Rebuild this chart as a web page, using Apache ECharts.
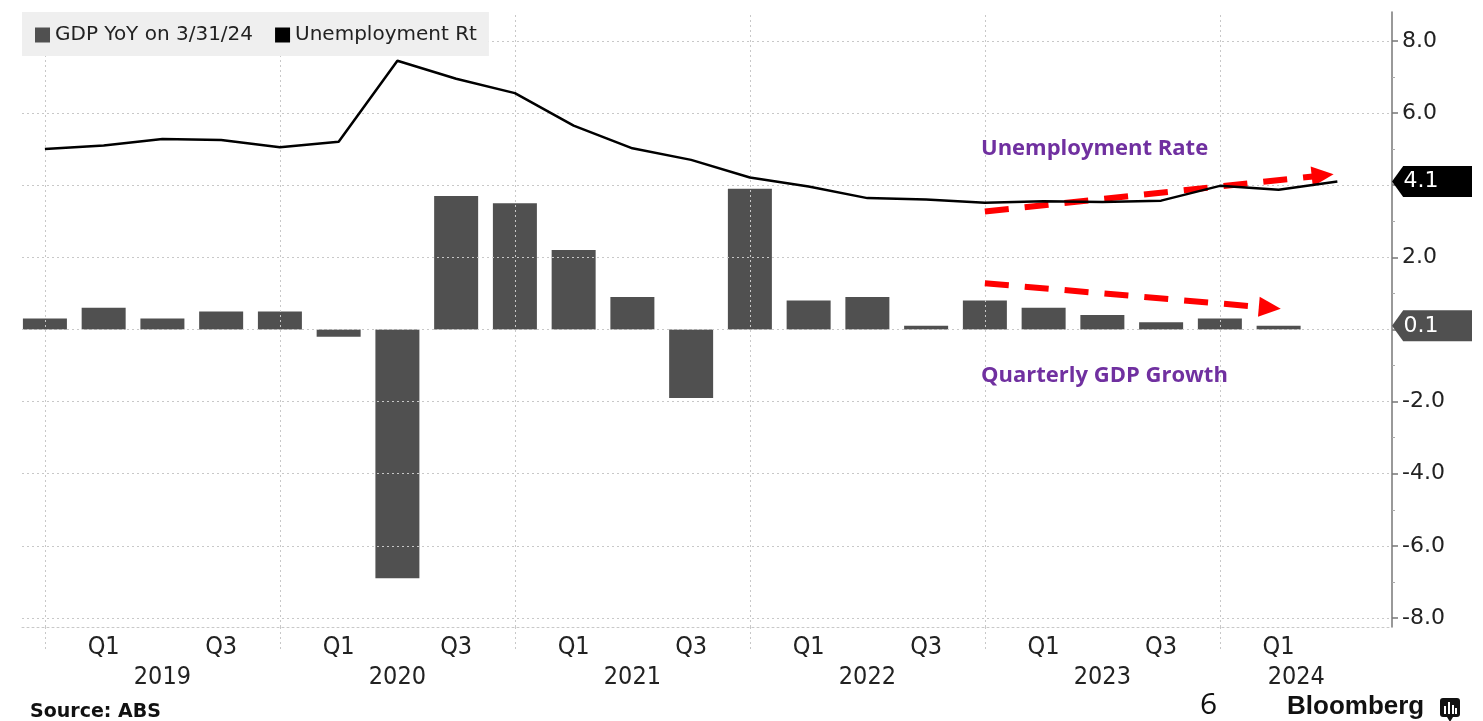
<!DOCTYPE html>
<html>
<head>
<meta charset="utf-8">
<script src="https://cdn.jsdelivr.net/npm/echarts@6/dist/echarts.min.js"></script>
<style>
html,body{margin:0;padding:0;background:#fff;}
#main{width:1483px;height:721px;}
</style>
</head>
<body>
<div id="main"></div>
<script>
// ---- data ----
const quarters = ['2018 Q4','2019 Q1','2019 Q2','2019 Q3','2019 Q4','2020 Q1','2020 Q2','2020 Q3','2020 Q4',
  '2021 Q1','2021 Q2','2021 Q3','2021 Q4','2022 Q1','2022 Q2','2022 Q3','2022 Q4','2023 Q1','2023 Q2','2023 Q3',
  '2023 Q4','2024 Q1','2024 Q2'];
const gdpQoQ = [0.3, 0.6, 0.3, 0.5, 0.5, -0.2, -6.9, 3.7, 3.5, 2.2, 0.9, -1.9, 3.9, 0.8, 0.9, 0.1, 0.8, 0.6, 0.4, 0.2, 0.3, 0.1];
const unemployment = [5.0, 5.1, 5.28, 5.25, 5.05, 5.2, 7.45, 6.95, 6.55, 5.65, 5.02, 4.7, 4.21, 3.96, 3.64, 3.6, 3.51, 3.55, 3.53, 3.57, 3.98, 3.87, 4.1];
const qTickPos = [1, 3, 5, 7, 9, 11, 13, 15, 17, 19, 21];
const qTickLabels = ['Q1','Q3','Q1','Q3','Q1','Q3','Q1','Q3','Q1','Q3','Q1'];
const yearPos = [2, 6, 10, 14, 18, 21.3];
const yearLabels = ['2019','2020','2021','2022','2023','2024'];
const yearBoundaries = [0, 4, 8, 12, 16, 20];
const yTicks = [-8, -6, -4, -2, 0, 2, 4, 6, 8];
const yMinorTicks = [-7, -5, -3, -1, 1, 3, 5, 7];
// annotation arrows [startIdx, startVal, endIdx, endVal]
const unempTrend = [16, 3.27, 21.75, 4.27];
const gdpTrend = [16, 1.28, 20.85, 0.6];

const X_MIN = -0.39, X_MAX = 22.93, Y_MIN = -8.25, Y_MAX = 8.8;

const chart = echarts.init(document.getElementById('main'), null, {renderer: 'canvas'});

const labelOf = (pos, labels) => (v) => {
  for (let i = 0; i < pos.length; i++) if (Math.abs(pos[i] - v) < 1e-6) return labels[i];
  return '';
};

const gridLineStyle = {color: '#c8c8c8', type: [2, 3], width: 1};
const tagPath = 'path://M0,50 L14,0 L100,0 L100,100 L14,100 Z';
const xFont = '"Liberation Sans Narrow", "DejaVu Sans Condensed", "Roboto Condensed", sans-serif';

const option = {
  animation: false,
  backgroundColor: '#ffffff',
  grid: {left: 22, right: 91, top: 12, bottom: 94, containLabel: false},
  legend: {
    left: 22, top: 12, z: 20,
    backgroundColor: '#efefef',
    padding: [13, 12, 11, 13],
    itemWidth: 15, itemHeight: 15, itemGap: 22,
    icon: 'rect',
    itemStyle: {borderWidth: 0},
    lineStyle: {width: 0},
    textStyle: {fontFamily: 'DejaVu Sans', fontSize: 20, color: '#222'},
    data: [
      {name: 'GDP YoY on 3/31/24', itemStyle: {color: '#505050', borderWidth: 0}},
      {name: 'Unemployment Rt', itemStyle: {color: '#000', borderWidth: 0}}
    ]
  },
  xAxis: [{
    type: 'value', min: X_MIN, max: X_MAX,
    splitLine: {show: false},
    axisLine: {show: true, onZero: false, lineStyle: gridLineStyle},
    axisTick: {show: true, customValues: yearBoundaries, length: 24, lineStyle: gridLineStyle},
    axisLabel: {
      customValues: qTickPos, formatter: labelOf(qTickPos, qTickLabels),
      fontFamily: xFont, fontSize: 25, color: '#222', margin: 8
    }
  }, {
    type: 'value', min: X_MIN, max: X_MAX, position: 'bottom', offset: 30,
    splitLine: {show: false}, axisLine: {show: false, onZero: false}, axisTick: {show: false},
    axisLabel: {
      customValues: yearPos, formatter: labelOf(yearPos, yearLabels),
      fontFamily: xFont, fontSize: 25, color: '#222', margin: 8
    }
  }],
  yAxis: [{
    type: 'value', position: 'right', min: Y_MIN, max: Y_MAX,
    splitLine: {show: false},
    axisLine: {show: true, onZero: false, lineStyle: {color: '#777', width: 1.5}},
    axisTick: {show: true, customValues: yTicks, length: 6, lineStyle: {color: '#777', width: 1.5}},
    axisLabel: {
      customValues: yTicks, formatter: (v) => v.toFixed(1),
      fontFamily: 'DejaVu Sans', fontSize: 22, color: '#222', margin: 10
    }
  }, {
    type: 'value', position: 'right', min: Y_MIN, max: Y_MAX,
    splitLine: {show: false}, axisLine: {show: false, onZero: false},
    axisTick: {show: true, customValues: yMinorTicks, length: 3, lineStyle: {color: '#aaa', width: 1}},
    axisLabel: {show: false}
  }],
  series: [{
    name: 'GDP YoY on 3/31/24',
    type: 'bar',
    data: gdpQoQ.map((v, i) => [i, v]),
    barWidth: 44,
    itemStyle: {color: '#505050'},
    z: 3,
    markLine: {
      silent: true, symbol: 'none', animation: false,
      label: {show: false},
      lineStyle: gridLineStyle,
      data: yTicks.map(v => ({yAxis: v})).concat(yearBoundaries.map(v => ({xAxis: v})))
    },
    markPoint: {
      silent: true, animation: false,
      data: [{
        coord: [X_MAX, gdpQoQ[gdpQoQ.length - 1]], value: gdpQoQ[gdpQoQ.length - 1],
        symbol: tagPath, symbolSize: [80, 31], symbolKeepAspect: false, symbolOffset: [40, 0],
        itemStyle: {color: '#505050'},
        label: {show: true, position: 'inside', offset: [-11, 0], color: '#fff', fontFamily: 'DejaVu Sans', fontSize: 22,
          formatter: (p) => p.value.toFixed(1)}
      }]
    }
  }, {
    name: 'Unemployment Rt',
    type: 'line',
    data: unemployment.map((v, i) => [i, v]),
    symbol: 'none',
    lineStyle: {color: '#000', width: 2.5},
    itemStyle: {color: '#000'},
    z: 5,
    markLine: {
      silent: true, animation: false,
      symbol: ['none', 'triangle'], symbolSize: [20, 22],
      label: {show: false},
      lineStyle: {color: '#ff0000', width: 6, type: [24, 16]},
      data: [
        [{coord: [unempTrend[0], unempTrend[1]]}, {coord: [unempTrend[2], unempTrend[3]]}],
        [{coord: [gdpTrend[0], gdpTrend[1]]}, {coord: [gdpTrend[2], gdpTrend[3]]}]
      ]
    },
    markPoint: {
      silent: true, animation: false,
      data: [{
        coord: [X_MAX, unemployment[unemployment.length - 1]], value: unemployment[unemployment.length - 1],
        symbol: tagPath, symbolSize: [80, 31], symbolKeepAspect: false, symbolOffset: [40, 0],
        itemStyle: {color: '#000'},
        label: {show: true, position: 'inside', offset: [-11, 0], color: '#fff', fontFamily: 'DejaVu Sans', fontSize: 22,
          formatter: (p) => p.value.toFixed(1)}
      }]
    }
  }],
  graphic: [
    {type: 'text', left: 981, top: 138, z: 50,
      style: {text: 'Unemployment Rate', fill: '#7030A0', font: 'bold 22px "Open Sans"'}},
    {type: 'text', left: 981, top: 365, z: 50,
      style: {text: 'Quarterly GDP Growth', fill: '#7030A0', font: 'bold 22px "Open Sans"'}},
    {type: 'text', left: 30, top: 703, z: 50,
      style: {text: 'Source: ABS', fill: '#111', font: 'bold 19px "DejaVu Sans"'}},
    {type: 'text', left: 1200, top: 690, z: 50,
      style: {text: '6', fill: '#111', font: '30px "Open Sans"'}},
    {type: 'text', left: 1287, top: 694, z: 50,
      style: {text: 'Bloomberg', fill: '#111', font: 'bold 26px "Liberation Sans"'}},
    {type: 'group', left: 1440, top: 698, z: 50, children: [
      {type: 'rect', shape: {x: 0, y: 0, width: 20, height: 19, r: 3}, style: {fill: '#111'}},
      {type: 'polygon', shape: {points: [[7, 19], [10, 24], [13, 19]]}, style: {fill: '#111'}},
      {type: 'rect', shape: {x: 4, y: 8, width: 2, height: 8}, style: {fill: '#fff'}},
      {type: 'rect', shape: {x: 8, y: 4, width: 2, height: 12}, style: {fill: '#fff'}},
      {type: 'rect', shape: {x: 12, y: 7, width: 2, height: 9}, style: {fill: '#fff'}},
      {type: 'rect', shape: {x: 15, y: 10, width: 2, height: 6}, style: {fill: '#fff'}}
    ]}
  ]
};
chart.setOption(option);
</script>
</body>
</html>
